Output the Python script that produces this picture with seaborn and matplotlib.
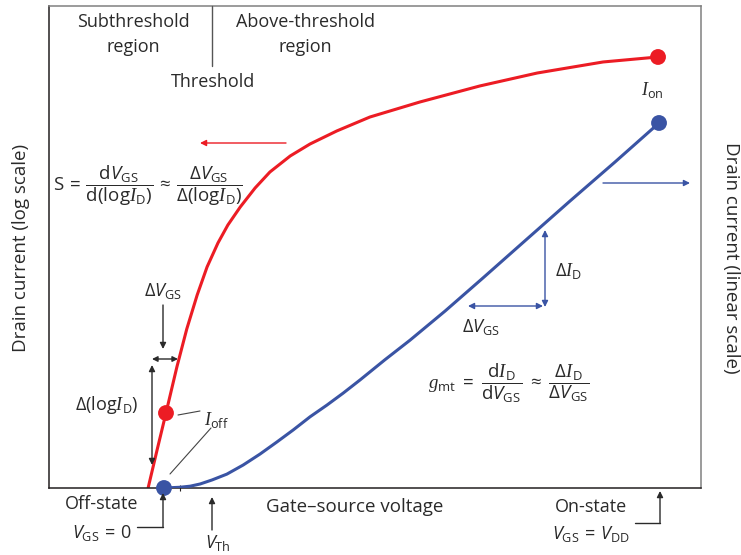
import matplotlib
matplotlib.use("Agg")
import matplotlib.pyplot as plt
import seaborn as sns
import pandas as pd

# ---------------- data ----------------
# Red curve: drain current on log scale (log10 of I_D) vs gate-source voltage (V, V_DD = 1)
vgs_red = [-0.032, -0.014, 0.004, 0.026, 0.046, 0.067, 0.087, 0.109, 0.129, 0.154, 0.184,
           0.214, 0.255, 0.295, 0.349, 0.416, 0.517, 0.638, 0.754, 0.887, 0.998]
log_id_red = [-10.05, -9.52, -9.00, -8.354, -7.82, -7.343, -6.949, -6.612, -6.36, -6.107, -5.84,
              -5.615, -5.39, -5.222, -5.039, -4.843, -4.632, -4.407, -4.225, -4.07, -4.00]
# Blue curve: drain current on linear scale (normalised to I_on) vs gate-source voltage
vgs_blue = [0.000, 0.016, 0.032, 0.053, 0.073, 0.097, 0.127, 0.160, 0.194, 0.228, 0.261, 0.295,
            0.329, 0.362, 0.396, 0.446, 0.497, 0.568, 0.644, 0.729, 0.820, 0.911, 1.000]
id_blue = [0.000, 0.001, 0.002, 0.005, 0.011, 0.022, 0.038, 0.063, 0.093, 0.126, 0.159, 0.195,
           0.227, 0.260, 0.296, 0.351, 0.405, 0.485, 0.575, 0.677, 0.786, 0.893, 1.000]
# marked states
red_marks_idx = [2, 20]    # I_off, I_on
blue_marks_idx = [0, 22]   # off-state, on-state
small_tick_v = [0.032]     # small tick on the voltage axis

RED = "#ec1c24"
BLUE = "#3a54a4"
TC = "#2a2a2a"

sns.set_theme(style="white")
plt.rcParams["font.family"] = ["Open Sans", "DejaVu Sans"]
plt.rcParams["mathtext.fontset"] = "custom"
plt.rcParams["mathtext.rm"] = "Open Sans"
plt.rcParams["mathtext.it"] = "Open Sans:italic"
plt.rcParams["mathtext.bf"] = "Liberation Serif:italic"

W, H = 741, 555
fig = plt.figure(figsize=(W / 100, H / 100), dpi=100)
fig.patch.set_facecolor("white")

# main axes (log scale, left)
ax = fig.add_axes([49 / W, (H - 488) / H, 652 / W, 482 / H])
ax.set_yscale("log")
ax.set_xlim(-0.2323, 1.0848)
ax.set_ylim(10 ** -10.053, 10 ** -3.284)
ax2 = ax.twinx()
ax2.set_ylim(0, 1.3205)

red_df = pd.DataFrame({"vgs": vgs_red, "id": [10 ** v for v in log_id_red]})
blue_df = pd.DataFrame({"vgs": vgs_blue, "id": id_blue})

sns.lineplot(data=red_df, x="vgs", y="id", ax=ax, color=RED, lw=2.2, sort=False, estimator=None,
             solid_joinstyle="round")
sns.lineplot(data=blue_df, x="vgs", y="id", ax=ax2, color=BLUE, lw=2.2, sort=False, estimator=None,
             solid_joinstyle="round")
sns.scatterplot(data=red_df.iloc[red_marks_idx], x="vgs", y="id", ax=ax, color=RED, s=130,
                edgecolor="none", clip_on=False, zorder=5)
sns.scatterplot(data=blue_df.iloc[blue_marks_idx], x="vgs", y="id", ax=ax2, color=BLUE, s=130,
                edgecolor="none", clip_on=False, zorder=5)

for a in (ax, ax2):
    a.set_xlabel("")
    a.set_ylabel("")
    a.set_xticks([])
    a.set_yticks([])
    a.set_yticks([], minor=True)
    a.tick_params(which="both", left=False, right=False, bottom=False, labelleft=False,
                  labelright=False, labelbottom=False)
ax.set_xticks(small_tick_v)
ax.tick_params(axis="x", which="major", bottom=True, direction="inout", length=4, width=0.8,
               color="#231f20", labelbottom=False)
for s in ax2.spines.values():
    s.set_visible(False)
ax.spines["left"].set_color("#231f20")
ax.spines["bottom"].set_color("#231f20")
ax.spines["top"].set_color("#808080")
ax.spines["right"].set_color("#808080")
for s in ax.spines.values():
    s.set_linewidth(1.1)

# overlay in pixel coordinates for annotations
ov = fig.add_axes([0, 0, 1, 1], zorder=10)
ov.set_xlim(0, W)
ov.set_ylim(H, 0)
ov.axis("off")
ov.patch.set_alpha(0)

FS = 13


def T(x, y, s, fs=FS, **kw):
    kw.setdefault("ha", "center")
    kw.setdefault("va", "center")
    ov.text(x, y, s, fontsize=fs, color=TC, **kw)


def arrow(x0, y0, x1, y1, color=TC, both=False, lw=1.0, ms=10):
    ov.annotate("", xy=(x1, y1), xytext=(x0, y0),
                arrowprops=dict(arrowstyle="<|-|>" if both else "-|>", color=color, lw=lw,
                                mutation_scale=ms, shrinkA=0, shrinkB=0))


# top region labels
T(133, 22, "Subthreshold")
T(133, 47, "region")
T(305, 22, "Above-threshold")
T(305, 47, "region")
ov.plot([212, 212], [6, 66], color="#555555", lw=1.0)
T(213, 82, "Threshold")

# axis labels
T(21, 248, "Drain current (log scale)", fs=13.5, rotation=90)
T(731, 258, "Drain current (linear scale)", fs=13.5, rotation=270)
T(355, 507, "Gate\u2013source voltage", fs=13.5)

# direction arrows
arrow(286, 143, 200, 143, color=RED, lw=1.0, ms=9)
arrow(603, 183, 690, 183, color=BLUE, lw=1.0, ms=9)

# subthreshold swing formula
T(53, 186, r"$\mathrm{S}\,=\,\dfrac{\mathrm{d}V_{\mathrm{GS}}}{\mathrm{d(log}\mathbf{I}_{\mathrm{D}})}"
           r"\,\approx\,\dfrac{\Delta V_{\mathrm{GS}}}{\Delta(\mathrm{log}\mathbf{I}_{\mathrm{D}})}$",
  fs=13.5, ha="left")

# red construction
T(163, 291, r"$\Delta V_{\mathrm{GS}}$")
arrow(163, 305, 163, 349, lw=1.0, ms=9)
arrow(152, 359, 178, 359, both=True, lw=1.0, ms=8)
arrow(152, 465, 152, 365, both=True, lw=1.0, ms=9)
T(107, 405, r"$\Delta(\mathrm{log}\mathbf{I}_{\mathrm{D}})$")

# I_off leaders
T(216, 420, r"$\mathbf{I}_{\mathrm{off}}$")
ov.plot([178, 200], [415, 411], color="#444444", lw=0.8)
ov.plot([170, 211], [474, 428], color="#444444", lw=0.8)

# I_on
T(652, 90, r"$\mathbf{I}_{\mathrm{on}}$")

# blue construction
arrow(545, 307, 545, 230, both=True, color=BLUE, lw=1.0, ms=9)
arrow(468, 306, 543, 306, both=True, color=BLUE, lw=1.0, ms=9)
T(568, 271, r"$\Delta \mathbf{I}_{\mathrm{D}}$")
T(481, 327, r"$\Delta V_{\mathrm{GS}}$")
T(428, 383, r"$\mathbf{g}_{\mathrm{mt}}\;=\;\dfrac{\mathrm{d}\mathbf{I}_{\mathrm{D}}}{\mathrm{d}V_{\mathrm{GS}}}"
            r"\;\approx\;\dfrac{\Delta \mathbf{I}_{\mathrm{D}}}{\Delta V_{\mathrm{GS}}}$",
  fs=13.5, ha="left")

# off-state
T(102, 504, "Off-state")
T(102, 533, r"$V_{\mathrm{GS}}\,=\,0$")
ov.plot([137, 163], [527, 527], color=TC, lw=1.0)
arrow(163, 527.5, 163, 493, lw=1.0, ms=9)

# threshold voltage
arrow(212, 530, 212, 497, lw=1.0, ms=9)
T(218, 543, r"$V_{\mathrm{Th}}$")

# on-state
T(591, 507, "On-state")
T(591, 534, r"$V_{\mathrm{GS}}\,=\,V_{\mathrm{DD}}$")
ov.plot([635, 660], [523, 523], color=TC, lw=1.0)
arrow(660, 523.5, 660, 491, lw=1.0, ms=9)

fig.savefig("out.png", dpi=100, facecolor="white")
